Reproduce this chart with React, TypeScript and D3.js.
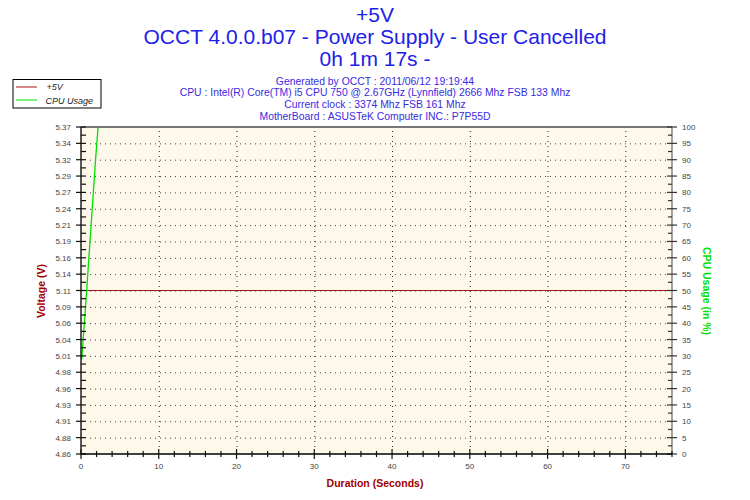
import React from "react";
import * as d3 from "d3";

const titleLines = ["+5V", "OCCT 4.0.0.b07 - Power Supply - User Cancelled", "0h 1m 17s -"];
const infoLines = [
  "Generated by OCCT : 2011/06/12 19:19:44",
  "CPU : Intel(R) Core(TM) i5 CPU 750 @ 2.67GHz (Lynnfield) 2666 Mhz FSB 133 Mhz",
  "Current clock : 3374 Mhz FSB 161 Mhz",
  "MotherBoard : ASUSTeK Computer INC.: P7P55D",
];
const voltLabels = ["4.86","4.88","4.91","4.93","4.96","4.98","5.01","5.04","5.06","5.09","5.11","5.14","5.16","5.19","5.21","5.24","5.27","5.29","5.32","5.34","5.37"];
const cpuTicks = [0,5,10,15,20,25,30,35,40,45,50,55,60,65,70,75,80,85,90,95,100];
const xTicks = [0,10,20,30,40,50,60,70];
const voltSeries: [number, number][] = [[0, 5.11], [76, 5.11]];
const cpuSeries: [number, number][] = [[0.1, 29], [0.7, 49], [1.3, 70], [1.9, 91], [2.2, 100], [76, 100]];

const W = 750, H = 500;
const L = 81, R = 672, T = 127, B = 454;
const FONT = "'Liberation Sans', Arial, sans-serif";

export default function App() {
  const x = d3.scaleLinear().domain([0, 76]).range([L, R]);
  const yCpu = d3.scaleLinear().domain([0, 100]).range([B, T]);
  const yVolt = d3.scaleLinear().domain([4.855, 5.365]).range([B, T]);
  const line = d3.line<[number, number]>();
  const voltPath = line(voltSeries.map(([t, v]) => [x(t), yVolt(v)]));
  const cpuPath = line(cpuSeries.map(([t, v]) => [x(t), yCpu(v)]));
  const xMinor = d3.range(0, 77, 2).filter((d) => d % 10 !== 0);
  const yMinor = d3.range(2.5, 100, 5);
  const titleColor = "#2020E8";
  const infoColor = "#3A2AE0";
  return (
    <svg width={W} height={H} style={{ position: "absolute", left: 0, top: 0 }} fontFamily={FONT}>
      <rect width={W} height={H} fill="#fff" />
      {titleLines.map((t, i) => (
        <text key={t} x={375} y={22 + i * 22} textAnchor="middle" fontSize={21} fill={titleColor}>{t}</text>
      ))}
      {infoLines.map((t, i) => (
        <text key={t} x={375} y={84.5 + i * 11.7} textAnchor="middle" fontSize={10.4} fill={infoColor}>{t}</text>
      ))}
      {/* legend */}
      <rect x={13} y={79.5} width={88} height={28.5} fill="#fff" stroke="#000" strokeWidth={1} />
      <line x1={16} x2={37} y1={87} y2={87} stroke="#B01010" strokeWidth={1} />
      <line x1={16} x2={37} y1={100} y2={100} stroke="#00E000" strokeWidth={1} />
      <text x={46.5} y={90} fontSize={9} fontStyle="italic" fill="#222">+5V</text>
      <text x={45.5} y={103.5} fontSize={9} fontStyle="italic" fill="#222">CPU Usage</text>
      {/* plot */}
      <rect x={L} y={T} width={R - L} height={B - T} fill="#FDF8EA" />
      {cpuTicks.slice(1, -1).map((d) => (
        <line key={"hg" + d} x1={L + 9} x2={R - 4} y1={yCpu(d) + 0.5} y2={yCpu(d) + 0.5} stroke="#444" strokeDasharray="1,4" />
      ))}
      {xTicks.slice(1).map((d) => (
        <line key={"vg" + d} x1={x(d) + 0.5} x2={x(d) + 0.5} y1={T + 4} y2={B - 4} stroke="#222" strokeDasharray="1,4" />
      ))}
      <clipPath id="plot"><rect x={L} y={T} width={R - L} height={B - T} /></clipPath>
      <g clipPath="url(#plot)">
        <path d={voltPath ?? ""} fill="none" stroke="#A01818" strokeWidth={1} />
        <path d={cpuPath ?? ""} fill="none" stroke="#00E000" strokeWidth={1.3} />
      </g>
      {/* top border & right axis */}
      <line x1={L} x2={R} y1={T} y2={T} stroke="#777" strokeWidth={2} />
      <line x1={R} x2={R} y1={T} y2={B} stroke="#666" strokeWidth={1.2} />
      {/* left axis */}
      <line x1={L} x2={L} y1={T} y2={B + 1} stroke="#000" strokeWidth={1.3} />
      {cpuTicks.map((d, i) => (
        <g key={"lt" + d}>
          <line x1={L - 5} x2={L + 5} y1={yCpu(d)} y2={yCpu(d)} stroke="#111" strokeWidth={1.2} />
          <text x={71} y={yCpu(d) + 3} textAnchor="end" fontSize={8} fill="#444">{voltLabels[i]}</text>
        </g>
      ))}
      {yMinor.map((d) => (
        <line key={"lm" + d} x1={L} x2={L + 5} y1={yCpu(d)} y2={yCpu(d)} stroke="#111" strokeWidth={1.2} />
      ))}
      {/* right axis ticks */}
      {cpuTicks.map((d) => (
        <g key={"rt" + d}>
          <line x1={R - 5} x2={R + 5} y1={yCpu(d)} y2={yCpu(d)} stroke="#333" strokeWidth={1.2} />
          <text x={682} y={yCpu(d) + 3} textAnchor="start" fontSize={8} fill="#444">{d}</text>
        </g>
      ))}
      {yMinor.map((d) => (
        <line key={"rm" + d} x1={R - 4} x2={R} y1={yCpu(d)} y2={yCpu(d)} stroke="#333" strokeWidth={1.2} />
      ))}
      {/* bottom axis */}
      <line x1={L} x2={R} y1={B} y2={B} stroke="#000" strokeWidth={1.3} />
      {xTicks.map((d) => (
        <g key={"bt" + d}>
          <line x1={x(d)} x2={x(d)} y1={B - 5} y2={B + 5} stroke="#111" strokeWidth={1.2} />
          <text x={x(d)} y={469} textAnchor="middle" fontSize={8} fill="#444">{d}</text>
        </g>
      ))}
      {xMinor.map((d) => (
        <line key={"bm" + d} x1={x(d)} x2={x(d)} y1={B - 3} y2={B + 3} stroke="#111" strokeWidth={1.2} />
      ))}
      {/* axis titles */}
      <text x={375} y={487} textAnchor="middle" fontSize={10.5} fontWeight="bold" fill="#A00000">Duration (Seconds)</text>
      <text transform={`translate(45,291) rotate(-90)`} textAnchor="middle" fontSize={10.5} fontWeight="bold" fill="#A00000">Voltage (V)</text>
      <text transform={`translate(703,291) rotate(90)`} textAnchor="middle" fontSize={10.5} fontWeight="bold" fill="#00E000">CPU Usage (in %)</text>
    </svg>
  );
}
